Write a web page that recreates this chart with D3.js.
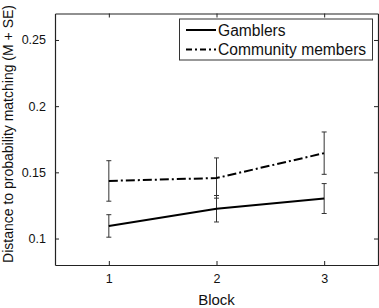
<html>
<head>
<script src="https://cdn.jsdelivr.net/npm/d3@7"></script>
<style>
  body { margin: 0; background: #fff; }
  text { font-family: "Liberation Sans", Arial, sans-serif; fill: #111; }
</style>
</head>
<body>
<svg id="chart"></svg>
<script>
var blocks = [1, 2, 3];
var gamblers = [0.1095, 0.1225, 0.1302];
var gamblersSE = [0.0085, 0.0100, 0.0113];
var community = [0.1435, 0.1457, 0.1645];
var communitySE = [0.0153, 0.0152, 0.0160];
var yTicks = [0.1, 0.15, 0.2, 0.25];
var yTickLabels = ["0.1", "0.15", "0.2", "0.25"];

var width = 379, height = 308;
var margin = {left: 55, right: 1, top: 13.5, bottom: 43};

var svg = d3.select("#chart").attr("width", width).attr("height", height);

var x = d3.scaleLinear().domain([0.5, 3.5]).range([margin.left, width - margin.right]);
var y = d3.scaleLinear().domain([0.08, 0.27]).range([height - margin.bottom, margin.top]);

// axes, matlab style with ticks pointing inward on all four sides
svg.append("g").attr("transform", "translate(0," + (height - margin.bottom) + ")")
    .call(d3.axisBottom(x).tickValues(blocks).tickFormat(d3.format("d")).tickSizeInner(-4).tickSizeOuter(0).tickPadding(9));
svg.append("g").attr("transform", "translate(0," + margin.top + ")")
    .call(d3.axisTop(x).tickValues(blocks).tickFormat("").tickSizeInner(-4).tickSizeOuter(0));
svg.append("g").attr("transform", "translate(" + margin.left + ",0)")
    .call(d3.axisLeft(y).tickValues(yTicks).tickFormat((d, i) => yTickLabels[i]).tickSizeInner(-4).tickSizeOuter(0).tickPadding(9));
svg.append("g").attr("transform", "translate(" + (width - margin.right) + ",0)")
    .call(d3.axisRight(y).tickValues(yTicks).tickFormat("").tickSizeInner(-4).tickSizeOuter(0));

svg.selectAll(".domain").attr("stroke", "#222").attr("stroke-width", 1.2);
svg.selectAll(".tick line").attr("stroke", "#222");
svg.selectAll(".tick text").style("font-size", "12.5px").style("fill", "#111");

var line = d3.line().x((d, i) => x(blocks[i])).y(d => y(d));

function errorBars(vals, se) {
    var g = svg.append("g").attr("stroke", "#333").attr("stroke-width", 1);
    vals.forEach(function(v, i) {
        var cx = x(blocks[i]);
        g.append("line").attr("x1", cx).attr("x2", cx).attr("y1", y(v - se[i])).attr("y2", y(v + se[i]));
        [v - se[i], v + se[i]].forEach(function(e) {
            g.append("line").attr("x1", cx - 2.5).attr("x2", cx + 2.5).attr("y1", y(e)).attr("y2", y(e));
        });
    });
}

errorBars(community, communitySE);
errorBars(gamblers, gamblersSE);

svg.append("path").datum(community).attr("d", line)
    .attr("fill", "none").attr("stroke", "#000").attr("stroke-width", 2)
    .attr("stroke-dasharray", "9,3,2,3");
svg.append("path").datum(gamblers).attr("d", line)
    .attr("fill", "none").attr("stroke", "#000").attr("stroke-width", 2);

// legend
var lg = svg.append("g");
lg.append("rect").attr("x", 179.5).attr("y", 19).attr("width", 193).attr("height", 41)
    .attr("fill", "#fff").attr("stroke", "#333").attr("stroke-width", 1);
var items = [["Gamblers", null], ["Community members", "6,3,2,3"]];
items.forEach(function(it, i) {
    var ly = 30 + i * 19.5;
    lg.append("line").attr("x1", 186).attr("x2", 216).attr("y1", ly).attr("y2", ly)
        .attr("stroke", "#000").attr("stroke-width", 2)
        .attr("stroke-dasharray", it[1]);
    lg.append("text").attr("x", 218).attr("y", ly).attr("dy", "0.36em")
        .style("font-size", "15.6px").text(it[0]);
});

svg.append("text").attr("x", x(2)).attr("y", 305)
    .attr("text-anchor", "middle").style("font-size", "15px").text("Block");
svg.append("text").attr("transform", "translate(13," + 134 + ") rotate(-90)")
    .attr("text-anchor", "middle").style("font-size", "14px")
    .text("Distance to probability matching (M + SE)");
</script>
</body>
</html>
